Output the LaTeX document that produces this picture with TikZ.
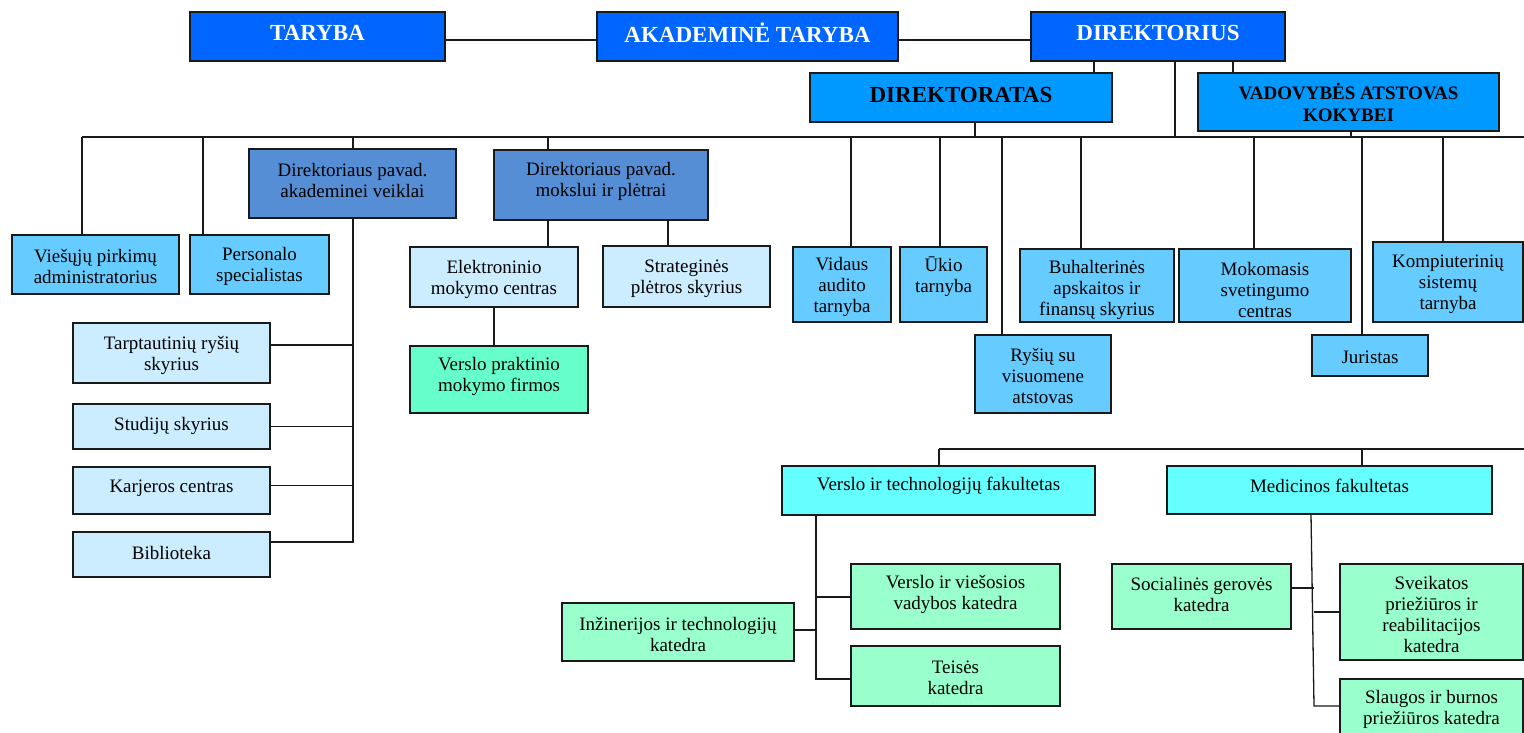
\documentclass[tikz,border=0pt]{standalone}
\usepackage{fontspec}
\setmainfont{Liberation Serif}
\usetikzlibrary{fit}
\definecolor{cTop}{HTML}{0066FF}
\definecolor{cDir}{HTML}{0099FF}
\definecolor{cPav}{HTML}{558ED5}
\definecolor{cLB}{HTML}{66CCFF}
\definecolor{cVL}{HTML}{CCECFF}
\definecolor{cVP}{HTML}{66FFCC}
\definecolor{cFak}{HTML}{66FFFF}
\definecolor{cKat}{HTML}{99FFCC}
\definecolor{cLine}{HTML}{1A1A1A}
\tikzset{
  bx/.style={draw=cLine, line width=1.4pt, inner sep=0pt, outer sep=0pt},
  txt/.style={align=center, inner sep=0pt, font=\fontsize{19}{21}\selectfont},
  ttl/.style={align=center, inner sep=0pt, font=\fontsize{23}{25}\selectfont\bfseries},
  ttls/.style={align=center, inner sep=0pt, font=\fontsize{19}{22}\selectfont\bfseries},
  con/.style={draw=cLine, line width=1.3pt}
}
% name, x1, y1, x2, y2, fill, dy (up), text style, text
\newcommand\bx[9]{%
  \node[bx, fill=#6, fit={(#2,#3) (#4,#5)}] (#1) {};
  \node[#8] (#1t) at ([yshift={#7pt-2pt}]#1.center) {#9};}
\begin{document}
\begin{tikzpicture}[x=1pt,y=-1pt]
\useasboundingbox[fill=white] (0,0) rectangle (1524,733);
% top row
\bx{taryba}{190}{12}{445}{61}{cTop}{6}{ttl,text=white}{TARYBA}
\bx{akad}{597}{12}{898}{61}{cTop}{6}{ttl,text=white}{AKADEMINĖ TARYBA}
\bx{direkt}{1031}{12}{1285}{61}{cTop}{6}{ttl,text=white}{DIREKTORIUS}
\bx{direktoratas}{810}{73}{1112}{122}{cDir}{5}{ttl}{DIREKTORATAS}
\bx{vadov}{1198}{73}{1499}{131}{cDir}{2}{ttls}{VADOVYBĖS ATSTOVAS\\KOKYBEI}
% second level
\bx{dirak}{249}{149}{456}{218}{cPav}{5}{txt}{Direktoriaus pavad.\\akademinei veiklai}
\bx{dirmok}{494}{150}{708}{220}{cPav}{6}{txt}{Direktoriaus pavad.\\mokslui ir plėtrai}
\bx{viesuju}{12}{235}{179}{294}{cLB}{0}{txt}{Viešųjų pirkimų\\administratorius}
\bx{personalo}{190}{235}{329}{294}{cLB}{0}{txt}{Personalo\\specialistas}
\bx{vidaus}{793}{247}{891}{322}{cLB}{0}{txt}{Vidaus\\audito\\tarnyba}
\bx{ukio}{900}{247}{987}{322}{cLB}{9.5}{txt}{Ūkio\\tarnyba}
\bx{rysiu}{975}{335}{1111}{413}{cLB}{0}{txt}{Ryšių su\\visuomene\\atstovas}
\bx{buhalt}{1020}{249}{1174}{322}{cLB}{-2.5}{txt}{Buhalterinės\\apskaitos ir\\finansų skyrius}
\bx{mokom}{1179}{249}{1351}{322}{cLB}{-2}{txt}{Mokomasis\\svetingumo\\centras}
\bx{juristas}{1312}{335}{1428}{376}{cLB}{0}{txt}{Juristas}
\bx{kompiut}{1373}{242}{1523}{322}{cLB}{0}{txt}{Kompiuterinių\\sistemų\\tarnyba}
% left column
\bx{tarpt}{73}{323}{270}{383}{cVL}{0}{txt}{Tarptautinių ryšių\\skyrius}
\bx{studiju}{73}{404}{270}{449}{cVL}{3}{txt}{Studijų skyrius}
\bx{karjeros}{73}{467}{270}{514}{cVL}{4}{txt}{Karjeros centras}
\bx{bibl}{73}{532}{270}{577}{cVL}{4}{txt}{Biblioteka}
% middle
\bx{elektr}{410}{247}{578}{307}{cVL}{0}{txt}{Elektroninio\\mokymo centras}
\bx{strat}{603}{246}{770}{307}{cVL}{0}{txt}{Strateginės\\plėtros skyrius}
\bx{vprakt}{410}{346}{588}{413}{cVP}{5}{txt}{Verslo praktinio\\mokymo firmos}
% faculties
\bx{vtf}{782}{466}{1095}{515}{cFak}{6.5}{txt}{Verslo ir technologijų fakultetas}
\bx{med}{1167}{466}{1492}{514}{cFak}{6}{txt}{Medicinos fakultetas}
\bx{vv}{851}{564}{1060}{629}{cKat}{4}{txt}{Verslo ir viešosios\\vadybos katedra}
\bx{teises}{851}{646}{1060}{706}{cKat}{0}{txt}{Teisės\\katedra}
\bx{inzin}{562}{603}{794}{661}{cKat}{0}{txt}{Inžinerijos ir technologijų\\katedra}
\bx{soc}{1112}{564}{1291}{629}{cKat}{4}{txt}{Socialinės gerovės\\katedra}
\bx{sveik}{1340}{564}{1523}{660}{cKat}{0}{txt}{Sveikatos\\priežiūros ir\\reabilitacijos\\katedra}
\bx{slaug}{1340}{679}{1523}{745}{cKat}{5}{txt}{Slaugos ir burnos\\priežiūros katedra}
% ---- connectors ----
\draw[con] ([yshift=-3.5pt]taryba.east) -- ([yshift=-3.5pt]akad.west);
\draw[con] ([yshift=-3.5pt]akad.east) -- ([yshift=-3.5pt]direkt.west);
% main bus
\coordinate (busL) at (82,137);
\coordinate (busR) at (1524,137);
\draw[con] (busL) -- (busR);
\coordinate (kA) at (1094,61);
\coordinate (kB) at (1233,61);
\coordinate (kC) at (1175,61);
\draw[con] (kA) -- (kA |- direktoratas.north);
\draw[con] (kB) -- (kB |- vadov.north);
\draw[con] (kC) -- (kC |- busL);
\coordinate (kD) at (975,122);
\coordinate (kE) at (1351,131);
\draw[con] (kD) -- (kD |- busL);
\draw[con] (kE) -- (kE |- busL);
% drops from bus
\foreach \xx/\nn in {82/viesuju,203/personalo,353/dirak,548/dirmok,851/vidaus,940/ukio,1002/rysiu,1081/buhalt,1254/mokom,1362/juristas,1443/kompiut}{
  \coordinate (t-\nn) at (\xx,137);
  \draw[con] (t-\nn) -- (t-\nn |- \nn.north);
}
% left tree
\coordinate (lv) at (353,218);
\coordinate (lvb) at (353,542);
\draw[con] (lv) -- (lvb) -- (bibl.east |- lvb);
\draw[con] ([yshift=8pt]tarpt.east) -- ([yshift=8pt]tarpt.east -| lv);
\draw[con] (studiju.east) -- (studiju.east -| lv);
\draw[con] ([yshift=5pt]karjeros.east) -- ([yshift=5pt]karjeros.east -| lv);
% middle tree
\coordinate (m1) at (548,220);
\coordinate (m2) at (668,220);
\coordinate (m3) at (494,307);
\draw[con] (m1) -- (m1 |- elektr.north);
\draw[con] (m2) -- (m2 |- strat.north);
\draw[con] (m3) -- (m3 |- vprakt.north);
% faculty bus
\coordinate (fbL) at (939,449);
\coordinate (fbR) at (1524,449);
\draw[con] (fbL) -- (fbR);
\draw[con] (fbL) -- (fbL |- vtf.north);
\coordinate (fbM) at (1362,449);
\draw[con] (fbM) -- (fbM |- med.north);
% VTF tree
\coordinate (v1) at (816,515);
\coordinate (v2) at (816,679);
\draw[con] (v1) -- (v2) -- (v2 -| teises.west);
\draw[con] ([yshift=-0.5pt]vv.west) -- ([yshift=-0.5pt]vv.west -| v1);
\draw[con] ([yshift=2pt]inzin.east) -- ([yshift=2pt]inzin.east -| v1);
% MED tree
\coordinate (w1) at (1311,514);
\coordinate (w2) at (1314,706);
\draw[con] (w1) -- (w2) -- (w2 -| slaug.west);
\draw[con] ([yshift=8.5pt]soc.east) -- ([yshift=8.5pt]soc.east -| w2);
\draw[con] (sveik.west) -- (sveik.west -| w2);
\end{tikzpicture}
\end{document}
